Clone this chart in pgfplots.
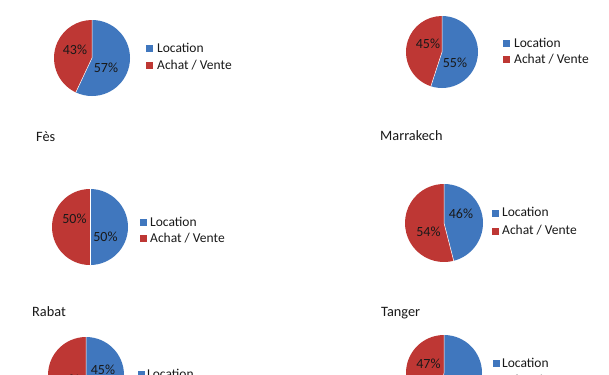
\documentclass[border=0pt]{standalone}
\usepackage{pgfplots}
\usepackage{pgfplotstable}
\pgfplotsset{compat=1.18}
\usepackage{fontspec}
\setmainfont{Carlito}
\definecolor{locblue}{RGB}{64,119,190}
\definecolor{achred}{RGB}{190,55,52}
\definecolor{txt}{RGB}{25,25,25}

% Location / Achat-Vente shares (%)
\pgfplotstableread{
type value
Location 57
Achat 43
}\tabA
\pgfplotstableread{
type value
Location 55
Achat 45
}\tabB
\pgfplotstableread{
type value
Location 50
Achat 50
}\tabC
\pgfplotstableread{
type value
Location 46
Achat 54
}\tabD
\pgfplotstableread{
type value
Location 45
Achat 55
}\tabE
\pgfplotstableread{
type value
Location 53
Achat 47
}\tabF

% #1 table, #2 cx, #3 cy (px from top), #4 radius px
% #5,#6 position of Location label, #7,#8 position of Achat label
\newcommand\pie[8]{%
  \pgfplotstablegetelem{0}{value}\of#1\edef\va{\pgfplotsretval}%
  \pgfplotstablegetelem{1}{value}\of#1\edef\vb{\pgfplotsretval}%
  \pgfmathsetmacro\splitang{90-360*(\va/(\va+\vb))}%
  \pgfmathsetmacro\diam{2*#4}%
  \begin{axis}[at={(#2bp,-#3bp)}, anchor=center, width=\diam bp, height=\diam bp,
      scale only axis, xmin=-1, xmax=1, ymin=-1, ymax=1, hide axis, clip=false]
    \addplot[draw=none] coordinates {(0,0)};
    \fill[locblue] (axis cs:0,0) -- (axis cs:0,1) arc[start angle=90, end angle=\splitang, radius=#4bp] -- cycle;
    \fill[achred] (axis cs:0,0) -- (axis cs:{cos(\splitang)},{sin(\splitang)}) arc[start angle=\splitang, end angle=-270, radius=#4bp] -- cycle;
    \draw[white, line width=0.5pt] (axis cs:0,0) -- (axis cs:0,1) (axis cs:0,0) -- (axis cs:{cos(\splitang)},{sin(\splitang)});
  \end{axis}
  \begin{scope}[x=1bp, y=-1bp]
    \node[txt, font=\fontsize{14bp}{16bp}\selectfont, inner sep=0pt] at (#5,#6) {\va\%};
    \node[txt, font=\fontsize{14bp}{16bp}\selectfont, inner sep=0pt] at (#7,#8) {\vb\%};
  \end{scope}
}
% legend: #1 square x, #2 baseline row1, #3 baseline row2, #4 text x
\newcommand\leg[4]{%
  \begin{scope}[x=1bp, y=-1bp]
    \fill[locblue] (#1,#2-7) rectangle ++(7,7);
    \fill[achred] (#1,#3-7) rectangle ++(7,7);
    \node[txt, anchor=base west, inner sep=0pt, font=\fontsize{13.5bp}{16bp}\selectfont] at (#4,#2) {Location};
    \node[txt, anchor=base west, inner sep=0pt, font=\fontsize{13.5bp}{16bp}\selectfont] at (#4,#3) {Achat / Vente};
  \end{scope}
}
\newcommand\ttl[3]{%
  \node[txt, anchor=base west, inner sep=0pt, font=\fontsize{14.3bp}{17bp}\selectfont] at (#1bp,-#2bp) {#3};
}

\begin{document}
\begin{tikzpicture}
  \useasboundingbox (0,0) rectangle (609bp,-375bp);
  \clip (0,0) rectangle (609bp,-375bp);
  \fill[white] (0,0) rectangle (609bp,-375bp);

  \pie{\tabA}{92}{58}{38}{106}{68}{75}{50}
  \leg{146}{52}{69}{157}

  \pie{\tabB}{442}{52}{36}{455}{63}{428}{44}
  \leg{503}{47}{63}{514}

  \ttl{36}{141}{Fès}
  \ttl{380}{140}{Marrakech}

  \pie{\tabC}{90}{227}{38}{105.5}{237}{74.5}{219}
  \leg{140}{226}{242}{150}

  \pie{\tabD}{444}{223}{39}{461}{214}{428.5}{232}
  \leg{492}{216.5}{234.5}{502}

  \ttl{32}{316}{Rabat}
  \ttl{381}{316}{Tanger}

  \pie{\tabE}{86}{375}{38}{103}{370}{67}{380}
  \leg{138}{378}{395}{147}

  \pie{\tabF}{444}{373}{38}{458}{382}{428.5}{364}
  \leg{493}{367}{384}{502}
\end{tikzpicture}
\end{document}
